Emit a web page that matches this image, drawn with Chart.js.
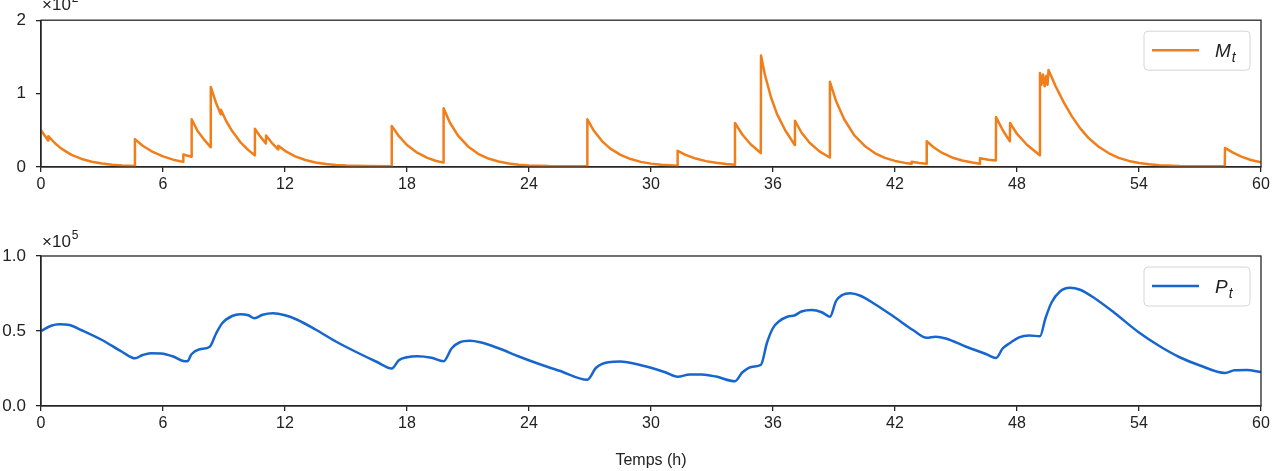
<!DOCTYPE html>
<html>
<head>
<meta charset="utf-8">
<script src="https://cdn.jsdelivr.net/npm/chart.js@4"></script>
<style>
  body { margin: 0; background: #fff; }
  #wrap { position: relative; width: 1275px; height: 471px; overflow: hidden; }
  canvas { position: absolute; left: 0; }
</style>
</head>
<body>
<div id="wrap">
  <canvas id="mChart" width="1275" height="230" style="top:0"></canvas>
  <canvas id="pChart" width="1275" height="241" style="top:230px"></canvas>
</div>
<script>
// temps (h) et M_t (x10^2)
const mTimes = [0, 0.35, 0.36, 0.7, 1.0, 1.5, 2.0, 2.5, 3.0, 3.5, 4.0, 4.61,
  4.62, 5.0, 5.5, 6.0, 6.5, 6.99, 7.0, 7.4, 7.41, 7.7, 8.0, 8.34,
  8.35, 8.6, 8.84, 8.85, 9.1, 9.4, 9.8, 10.2, 10.51, 10.52, 10.8, 11.06,
  11.07, 11.35, 11.66, 11.67, 12.0, 12.5, 13.0, 13.5, 14.0, 14.5, 15.0, 16.0, 17.24,
  17.25, 17.6, 18.0, 18.5, 19.0, 19.4, 19.79,
  19.8, 20.1, 20.5, 21.0, 21.5, 22.0, 22.5, 23.0, 23.5, 24.0, 25.0, 26.86,
  26.87, 27.2, 27.6, 28.0, 28.5, 29.0, 29.5, 30.0, 30.5, 31.3,
  31.31, 31.7, 32.2, 32.7, 33.2, 33.7, 34.12,
  34.13, 34.5, 34.9, 35.4,
  35.41, 35.6, 35.9, 36.2, 36.6, 37.07,
  37.08, 37.4, 37.8, 38.3, 38.79,
  38.8, 39.1, 39.5, 40.0, 40.5, 41.0, 41.5, 42.0, 42.5, 42.81,
  42.82, 43.2, 43.55,
  43.56, 43.9, 44.3, 44.8, 45.3, 45.8, 46.17,
  46.18, 46.6, 46.96,
  46.97, 47.3, 47.65,
  47.66, 48.0, 48.5, 49.12,
  49.13, 49.2, 49.28, 49.36, 49.44, 49.5, 49.55, 49.9, 50.3, 50.7, 51.1, 51.5, 52.0, 52.5, 53.0, 53.5, 54.0, 54.5, 55.0, 56.0, 57.0, 58.22,
  58.23, 58.6, 59.0, 59.5, 60.0];
const mValues = [0.50, 0.36, 0.42, 0.32, 0.25, 0.165, 0.11, 0.072, 0.048, 0.032, 0.022, 0.015,
  0.38, 0.29, 0.205, 0.145, 0.10, 0.07, 0.17, 0.14, 0.65, 0.49, 0.38, 0.27,
  1.09, 0.88, 0.72, 0.78, 0.63, 0.49, 0.34, 0.23, 0.16, 0.52, 0.41, 0.32,
  0.43, 0.33, 0.24, 0.29, 0.22, 0.145, 0.095, 0.062, 0.04, 0.027, 0.019, 0.012, 0.01,
  0.56, 0.42, 0.30, 0.195, 0.125, 0.085, 0.06,
  0.80, 0.61, 0.43, 0.28, 0.18, 0.115, 0.075, 0.048, 0.032, 0.022, 0.013, 0.01,
  0.65, 0.49, 0.35, 0.25, 0.165, 0.108, 0.07, 0.046, 0.031, 0.018,
  0.22, 0.165, 0.115, 0.08, 0.057, 0.04, 0.03,
  0.60, 0.44, 0.31, 0.19,
  1.52, 1.26, 0.95, 0.72, 0.50, 0.30,
  0.63, 0.47, 0.33, 0.21, 0.13,
  1.16, 0.90, 0.65, 0.43, 0.29, 0.19, 0.125, 0.083, 0.056, 0.045,
  0.07, 0.055, 0.045,
  0.35, 0.27, 0.195, 0.13, 0.088, 0.06, 0.045,
  0.12, 0.10, 0.09,
  0.68, 0.50, 0.35,
  0.60, 0.45, 0.30, 0.16,
  1.28, 1.12, 1.26, 1.10, 1.24, 1.12, 1.32, 1.10, 0.88, 0.69, 0.53, 0.40, 0.28, 0.19, 0.125, 0.083, 0.055, 0.037, 0.025, 0.014, 0.01, 0.01,
  0.26, 0.20, 0.145, 0.095, 0.065];

// temps (h) et P_t (x10^5)
const pTimes = [0, 0.5, 0.9, 1.4, 2.0, 3.0, 4.0, 4.62,
  5.0, 5.4, 5.9, 6.5, 7.0, 7.2,
  7.4, 7.8, 8.3, 8.6, 8.9, 9.4, 9.8, 10.2, 10.5, 10.9, 11.4, 12.0, 12.6, 13.5, 14.5, 15.5, 16.5, 17.25,
  17.6, 18.0, 18.5, 19.2, 19.8,
  20.2, 20.6, 21.1, 21.6, 22.5, 23.5, 24.5, 25.5, 26.87,
  27.3, 27.9, 28.5, 29.2, 30.0, 30.7, 31.31,
  31.9, 32.5, 33.2, 34.13,
  34.5, 35.0, 35.41,
  35.7, 36.0, 36.3, 36.7, 37.08,
  37.4, 37.9, 38.4, 38.8,
  39.1, 39.4, 39.8, 40.3, 41.0, 42.0, 42.9, 43.56,
  44.0, 44.5, 45.5, 46.5, 46.97,
  47.3, 47.66, 48.1, 48.6, 49.13,
  49.4, 49.7, 50.1, 50.6, 51.1, 51.8, 52.8, 54.0, 55.0, 56.0, 57.0, 58.23,
  58.7, 59.3, 60.0];
const pValues = [0.50, 0.535, 0.545, 0.54, 0.505, 0.44, 0.36, 0.318,
  0.34, 0.352, 0.35, 0.33, 0.30, 0.298,
  0.345, 0.378, 0.395, 0.48, 0.55, 0.60, 0.612, 0.605, 0.585, 0.608, 0.618, 0.605, 0.575, 0.51, 0.43, 0.36, 0.295, 0.25,
  0.305, 0.325, 0.332, 0.322, 0.298,
  0.385, 0.425, 0.435, 0.425, 0.385, 0.33, 0.28, 0.235, 0.175,
  0.255, 0.292, 0.296, 0.282, 0.255, 0.225, 0.195,
  0.21, 0.21, 0.196, 0.165,
  0.225, 0.262, 0.275,
  0.42, 0.52, 0.565, 0.595, 0.605,
  0.63, 0.64, 0.625, 0.595,
  0.70, 0.74, 0.752, 0.735, 0.68, 0.59, 0.505, 0.455,
  0.462, 0.45, 0.395, 0.345, 0.32,
  0.385, 0.42, 0.458, 0.47, 0.465,
  0.585, 0.69, 0.762, 0.788, 0.775, 0.72, 0.62, 0.49, 0.40, 0.325, 0.27, 0.22,
  0.238, 0.24, 0.226];

const xTicks = [0, 6, 12, 18, 24, 30, 36, 42, 48, 54, 60];
const mTicks = [0, 1, 2];
const pTicks = [0.0, 0.5, 1.0];

const FONT = "'Liberation Sans', Arial, sans-serif";
const AXIS = '#262626';
const ORANGE = '#F07E1B';
const BLUE = '#1766CF';

// cadre + légende + facteur d'échelle
function decorPlugin(symbol, color, exponent) {
  return {
    id: 'decor',
    afterDraw(chart) {
      const ctx = chart.ctx;
      const a = chart.chartArea;
      ctx.save();
      ctx.strokeStyle = AXIS;
      ctx.lineWidth = 1.3;
      ctx.strokeRect(a.left, a.top, a.right - a.left, a.bottom - a.top);

      // légende
      const bw = 106, bh = 39;
      const bx = a.right - 11 - bw, by = a.top + 11;
      ctx.beginPath();
      ctx.roundRect(bx, by, bw, bh, 4);
      ctx.fillStyle = 'rgba(255,255,255,0.85)';
      ctx.fill();
      ctx.strokeStyle = '#d6d6d6';
      ctx.lineWidth = 1;
      ctx.stroke();
      ctx.beginPath();
      ctx.moveTo(bx + 8, by + 19);
      ctx.lineTo(bx + 55, by + 19);
      ctx.strokeStyle = color;
      ctx.lineWidth = 2.6;
      ctx.stroke();
      ctx.fillStyle = '#222';
      ctx.textBaseline = 'alphabetic';
      ctx.textAlign = 'left';
      ctx.font = 'italic 19px ' + FONT;
      ctx.fillText(symbol, bx + 71, by + 26);
      const w = ctx.measureText(symbol).width;
      ctx.font = 'italic 14px ' + FONT;
      ctx.fillText('t', bx + 71 + w + 1, by + 31);

      // ×10^n
      ctx.font = '17px ' + FONT;
      ctx.fillText('\u00d710', a.left + 1, exponent.y);
      const w2 = ctx.measureText('\u00d710').width;
      ctx.font = '12px ' + FONT;
      ctx.fillText(exponent.n, a.left + 1 + w2 + 1, exponent.y - 8);
      ctx.restore();
    }
  };
}

function makeChart(id, times, values, color, yTicks, opts) {
  const data = times.map((t, i) => ({ x: t, y: values[i] }));
  return new Chart(document.getElementById(id), {
    type: 'line',
    data: {
      datasets: [{
        data: data,
        borderColor: color,
        borderWidth: 2.5,
        borderJoinStyle: 'round',
        borderCapStyle: 'round',
        pointRadius: 0,
        fill: false,
        tension: opts.smooth ? 0.4 : 0,
        cubicInterpolationMode: opts.smooth ? 'monotone' : 'default'
      }]
    },
    options: {
      responsive: false,
      animation: false,
      devicePixelRatio: 1,
      layout: { padding: { top: opts.top, right: 14, left: 0, bottom: 0 } },
      plugins: { legend: { display: false }, tooltip: { enabled: false } },
      scales: {
        x: {
          type: 'linear',
          min: 0, max: 60,
          afterBuildTicks: s => { s.ticks = xTicks.map(v => ({ value: v })); },
          afterFit: s => { s.height = opts.xh; },
          grid: { drawOnChartArea: false, drawTicks: true, tickLength: 5, color: AXIS, lineWidth: 1.3 },
          border: { display: true, color: AXIS, width: 1.3 },
          ticks: { color: '#222', font: { family: FONT, size: 16 }, padding: 3, maxRotation: 0, autoSkip: false },
          title: opts.xTitle ? { display: true, text: opts.xTitle, color: '#222', font: { family: FONT, size: 16 }, padding: { top: 0, bottom: 1 } } : { display: false }
        },
        y: {
          min: yTicks[0], max: yTicks[yTicks.length - 1],
          afterBuildTicks: s => { s.ticks = yTicks.map(v => ({ value: v })); },
          afterFit: s => { s.width = 41; },
          grid: { drawOnChartArea: false, drawTicks: true, tickLength: 5, color: AXIS, lineWidth: 1.3 },
          border: { display: true, color: AXIS, width: 1.3 },
          ticks: { color: '#222', font: { family: FONT, size: 17 }, padding: 10, callback: opts.fmt }
        }
      }
    },
    plugins: [decorPlugin(opts.symbol, color, opts.exponent)]
  });
}

makeChart('mChart', mTimes, mValues, ORANGE, mTicks, {
  top: 18, xh: 63, smooth: false, symbol: 'M', fmt: v => String(v),
  exponent: { y: 10, n: '2' }
});
makeChart('pChart', pTimes, pValues, BLUE, pTicks, {
  top: 26, xh: 65, smooth: true, symbol: 'P', fmt: v => v.toFixed(1),
  exponent: { y: 17, n: '5' }, xTitle: 'Temps (h)'
});
</script>
</body>
</html>
